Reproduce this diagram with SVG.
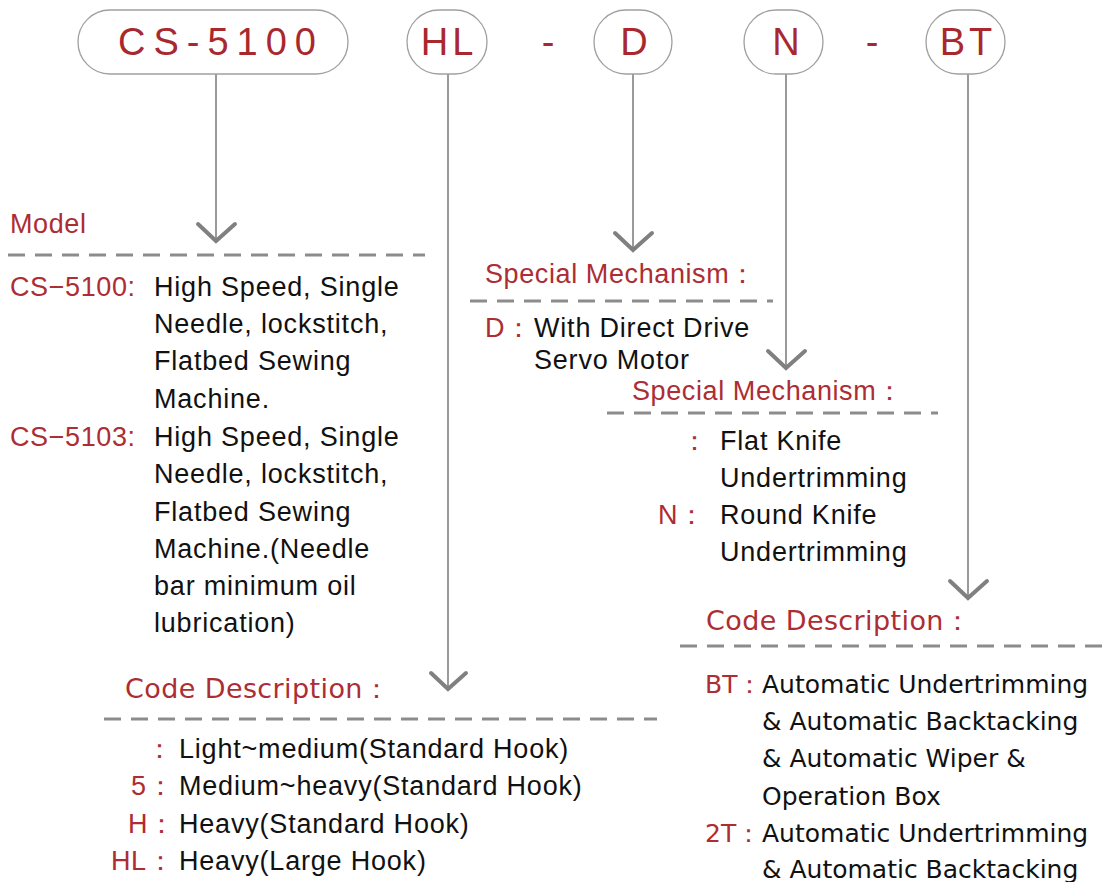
<svg xmlns="http://www.w3.org/2000/svg" width="1109" height="882" viewBox="0 0 1109 882">
<style>
.pill{fill:#fff;stroke:#a0a0a0;stroke-width:1.3}
.big{font-family:"Liberation Sans",Arial,sans-serif;font-size:38px;fill:#a9282e;text-anchor:middle}
.red{font-family:"Liberation Sans",Arial,sans-serif;font-size:27px;fill:#ad2d33;letter-spacing:0.6px}
.blk{font-family:"Liberation Sans",Arial,sans-serif;font-size:27px;fill:#111;letter-spacing:0.8px}
.geo{font-family:"DejaVu Sans","Liberation Sans",sans-serif;font-size:25px;letter-spacing:0}
.hdr{font-family:"DejaVu Sans","Liberation Sans",sans-serif;font-size:27px;letter-spacing:0.4px}
.vl{stroke:#9a9a9a;stroke-width:2;fill:none}
.chev{stroke:#808080;stroke-width:4;fill:none;stroke-linecap:round;stroke-linejoin:miter}
.dash{stroke:#8c8c8c;stroke-width:3;stroke-dasharray:17 10;fill:none}
</style>
<rect width="1109" height="882" fill="#fff"/>
<g id="connectors">
<line class="vl" x1="216" y1="74" x2="216" y2="240"/>
<polyline class="chev" points="198,224 216,241 235,224"/>
<line class="vl" x1="448" y1="74" x2="448" y2="688"/>
<polyline class="chev" points="431,673 448,689 466,673"/>
<line class="vl" x1="633" y1="74" x2="633" y2="249"/>
<polyline class="chev" points="615,233 633,250 652,233"/>
<line class="vl" x1="786" y1="74" x2="786" y2="367"/>
<polyline class="chev" points="768,351 786,368 805,351"/>
<line class="vl" x1="968" y1="74" x2="968" y2="597"/>
<polyline class="chev" points="950,581 968,598 987,581"/>
</g>
<g id="node-cs5100">
<rect class="pill" x="78" y="10" width="270" height="64" rx="32"/>
<text class="big" x="221" y="55" letter-spacing="8">CS-5100</text>
</g>
<g id="node-hl">
<rect class="pill" x="407" y="10" width="80" height="64" rx="32"/>
<text class="big" x="449" y="55" letter-spacing="4">HL</text>
</g>
<g id="sep1"><text class="big" x="548" y="55">-</text></g>
<g id="node-d">
<rect class="pill" x="594" y="10" width="78" height="64" rx="32"/>
<text class="big" x="634" y="55">D</text>
</g>
<g id="node-n">
<rect class="pill" x="744" y="10" width="79" height="64" rx="32"/>
<text class="big" x="786" y="55">N</text>
</g>
<g id="sep2"><text class="big" x="872" y="55">-</text></g>
<g id="node-bt">
<rect class="pill" x="926" y="10" width="79" height="64" rx="32"/>
<text class="big" x="968" y="55" letter-spacing="4">BT</text>
</g>
<g id="model">
<text class="red" x="10" y="233">Model</text>
<line class="dash" x1="8" y1="255" x2="425" y2="255"/>
<text class="red" x="10" y="296">CS−5100:</text>
<text class="blk" x="154" y="296">High Speed, Single</text>
<text class="blk" x="154" y="333">Needle, lockstitch,</text>
<text class="blk" x="154" y="370">Flatbed Sewing</text>
<text class="blk" x="154" y="408">Machine.</text>
<text class="red" x="10" y="446">CS−5103:</text>
<text class="blk" x="154" y="446">High Speed, Single</text>
<text class="blk" x="154" y="483">Needle, lockstitch,</text>
<text class="blk" x="154" y="521">Flatbed Sewing</text>
<text class="blk" x="154" y="558">Machine.(Needle</text>
<text class="blk" x="154" y="595">bar minimum oil</text>
<text class="blk" x="154" y="632">lubrication)</text>
</g>
<g id="mech-d">
<text class="red" x="485" y="283">Special Mechanism：</text>
<line class="dash" x1="470" y1="301" x2="773" y2="301"/>
<text class="red" x="485" y="337">D：</text>
<text class="blk" x="534" y="337">With Direct Drive</text>
<text class="blk" x="534" y="369">Servo Motor</text>
</g>
<g id="mech-n">
<text class="red" x="632" y="400">Special Mechanism：</text>
<line class="dash" x1="607" y1="413" x2="938" y2="413"/>
<text class="red" x="681" y="450">：</text>
<text class="blk" x="720" y="450">Flat Knife</text>
<text class="blk" x="720" y="487">Undertrimming</text>
<text class="red" x="658" y="524">N：</text>
<text class="blk" x="720" y="524">Round Knife</text>
<text class="blk" x="720" y="561">Undertrimming</text>
</g>
<g id="code-hl">
<text class="red hdr" x="125" y="698">Code Description：</text>
<line class="dash" x1="104" y1="719" x2="657" y2="719"/>
<text class="red" x="146" y="758">：</text>
<text class="blk" x="179" y="758">Light~medium(Standard Hook)</text>
<text class="red" x="131" y="795">5：</text>
<text class="blk" x="179" y="795">Medium~heavy(Standard Hook)</text>
<text class="red" x="128" y="833">H：</text>
<text class="blk" x="179" y="833">Heavy(Standard Hook)</text>
<text class="red" x="111" y="870">HL：</text>
<text class="blk" x="179" y="870">Heavy(Large Hook)</text>
</g>
<g id="code-bt">
<text class="red hdr" x="706" y="630">Code Description：</text>
<line class="dash" x1="680" y1="646" x2="1109" y2="646"/>
<text class="red geo" x="705" y="693">BT：</text>
<text class="blk geo" x="762" y="693">Automatic Undertrimming</text>
<text class="blk geo" x="762" y="730">&amp; Automatic Backtacking</text>
<text class="blk geo" x="762" y="767">&amp; Automatic Wiper &amp;</text>
<text class="blk geo" x="762" y="805">Operation Box</text>
<text class="red geo" x="705" y="842">2T：</text>
<text class="blk geo" x="762" y="842">Automatic Undertrimming</text>
<text class="blk geo" x="762" y="878">&amp; Automatic Backtacking</text>
</g>
</svg>
